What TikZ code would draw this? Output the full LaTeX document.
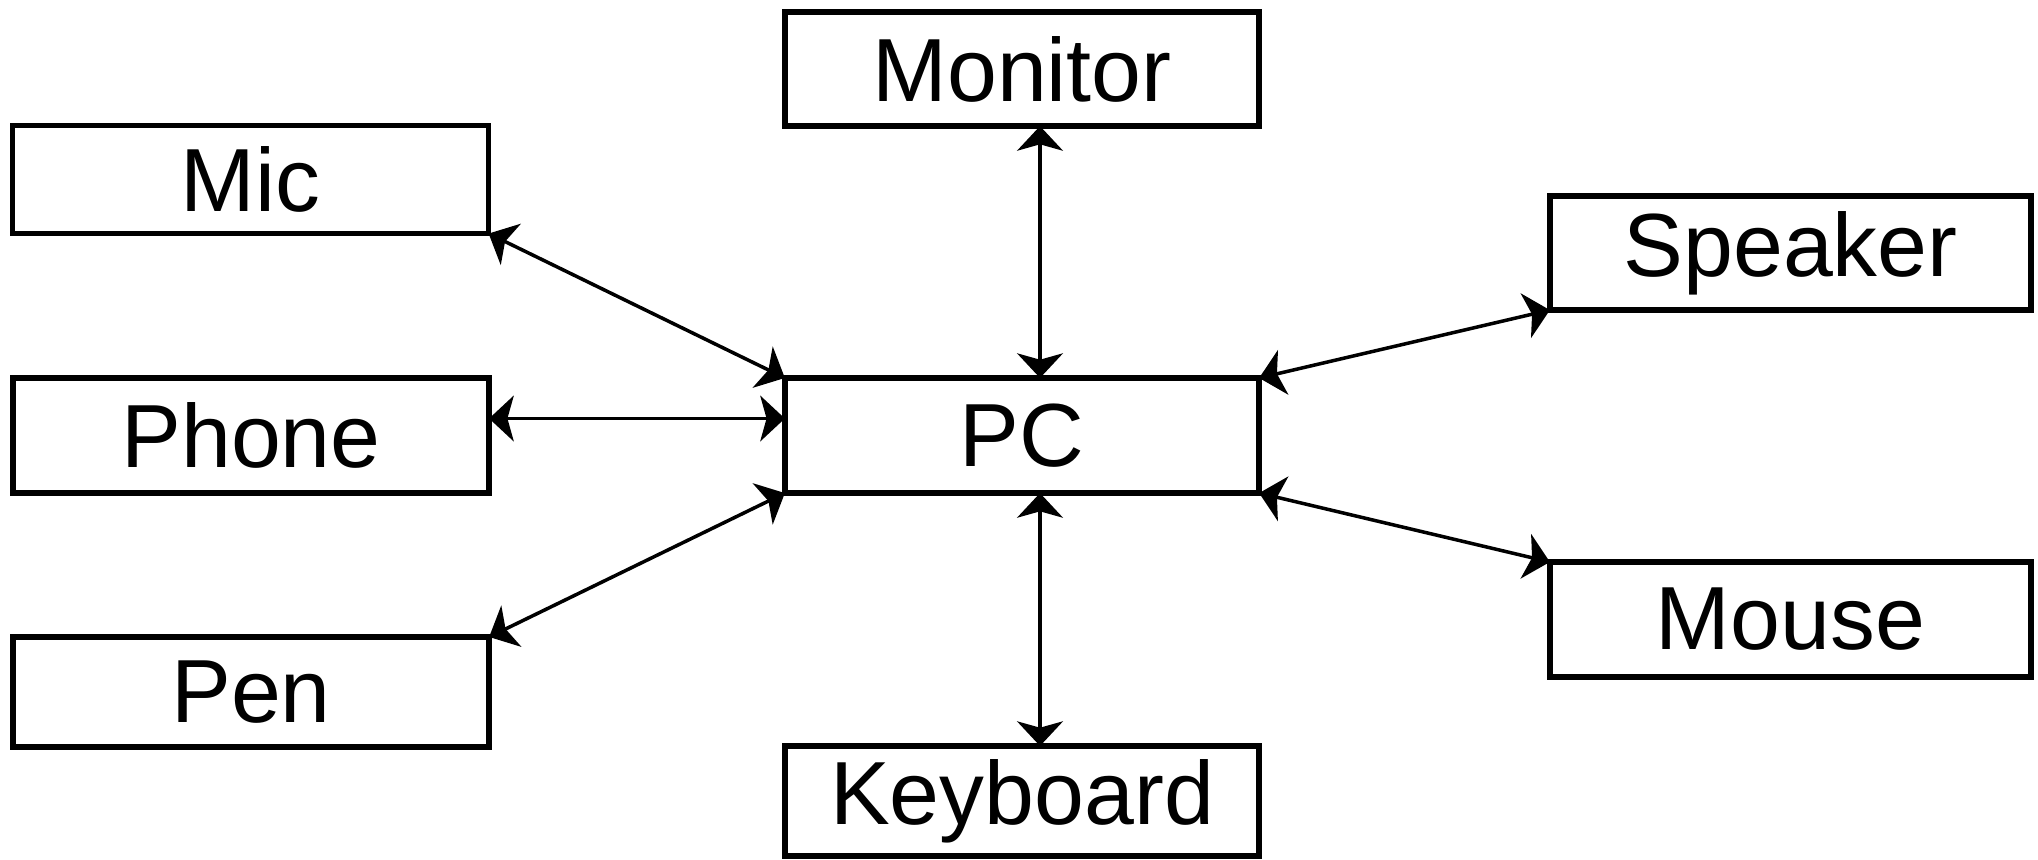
\documentclass[tikz,border=0pt]{standalone}
\usepackage{fontspec}
\setmainfont{Liberation Sans}
\usetikzlibrary{arrows.meta}
\begin{document}
\begin{tikzpicture}[x=0.01cm,y=-0.01cm,
  devbox/.style={draw, line width=1.6pt, outer sep=0pt, inner sep=0pt,
    minimum width=#1, font=\fontsize{25.5pt}{30pt}\selectfont},
  devbox/.default=4.76cm,
  link/.style={line width=1pt, {Stealth[length=7pt,width=13pt,inset=1.8pt]}-{Stealth[length=7pt,width=13pt,inset=1.8pt]}}]
\useasboundingbox (0,0) rectangle (2038,859);

% peripherals on the left
\node[devbox, minimum height=1.08cm] (Mic)   at (250.5,179.5) {Mic};
\node[devbox, minimum height=1.15cm] (Phone) at (251,435.5)   {Phone};
\node[devbox, minimum height=1.10cm] (Pen)   at (251,692)     {Pen};

% centre column
\node[devbox=4.74cm, minimum height=1.14cm] (Monitor)  at (1022,69)    {Monitor};
\node[devbox=4.74cm, minimum height=1.15cm] (PC)       at (1022,435.5) {PC};
\node[devbox=4.74cm, minimum height=1.10cm] (Keyboard) at (1022,801)   {Keyboard};

% peripherals on the right
\node[devbox=4.81cm, minimum height=1.14cm] (Speaker) at (1790.5,253)   {Speaker};
\node[devbox=4.81cm, minimum height=1.15cm] (Mouse)   at (1790.5,619.5) {Mouse};

% two-way links to the PC
\draw[link] (Mic.south east) -- (PC.north west);
\draw[link] ([yshift=0.17cm]Phone.east) -- ([yshift=0.17cm]PC.west);
\draw[link] (Pen.north east) -- (PC.south west);
\draw[link] ([xshift=0.18cm]Monitor.south) -- ([xshift=0.18cm]PC.north);
\draw[link] ([xshift=0.18cm]Keyboard.north) -- ([xshift=0.18cm]PC.south);
\draw[link] (Speaker.south west) -- (PC.north east);
\draw[link] (Mouse.north west) -- (PC.south east);
\end{tikzpicture}
\end{document}
